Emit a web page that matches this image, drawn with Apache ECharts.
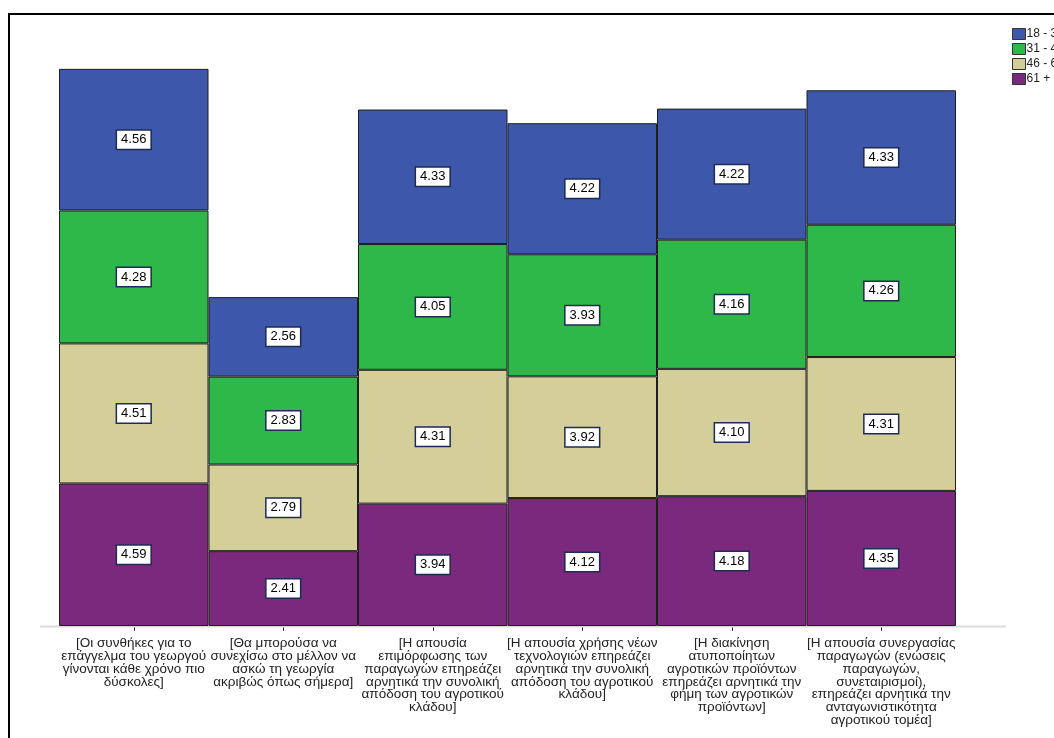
<!DOCTYPE html>
<html>
<head>
<meta charset="utf-8">
<script src="https://cdn.jsdelivr.net/npm/echarts@6/dist/echarts.min.js"></script>
<style>
html,body{margin:0;padding:0;background:#fff;}
#c{width:1054px;height:738px;}
</style>
</head>
<body>
<div id="c"></div>
<script>
const categories = [
  "[Οι συνθήκες για το\nεπάγγελμα του γεωργού\nγίνονται κάθε χρόνο πιο\nδύσκολες]",
  "[Θα μπορούσα να\nσυνεχίσω στο μέλλον να\nασκώ τη γεωργία\nακριβώς όπως σήμερα]",
  "[Η απουσία\nεπιμόρφωσης των\nπαραγωγών επηρεάζει\nαρνητικά την συνολική\nαπόδοση του αγροτικού\nκλάδου]",
  "[Η απουσία χρήσης νέων\nτεχνολογιών επηρεάζει\nαρνητικά την συνολική\nαπόδοση του αγροτικού\nκλάδου]",
  "[Η διακίνηση\nατυποποίητων\nαγροτικών προϊόντων\nεπηρεάζει αρνητικά την\nφήμη των αγροτικών\nπροϊόντων]",
  "[Η απουσία συνεργασίας\nπαραγωγών (ενώσεις\nπαραγωγών,\nσυνεταιρισμοί),\nεπηρεάζει αρνητικά την\nανταγωνιστικότητα\nαγροτικού τομέα]"
];
const seriesNames = ["18 - 30", "31 - 45", "46 - 60", "61 +"];
const age18_30 = [4.56, 2.56, 4.33, 4.22, 4.22, 4.33];
const age31_45 = [4.28, 2.83, 4.05, 3.93, 4.16, 4.26];
const age46_60 = [4.51, 2.79, 4.31, 3.92, 4.10, 4.31];
const age61plus = [4.59, 2.41, 3.94, 4.12, 4.18, 4.35];
const colors = ["#3d58ab", "#2fb84a", "#d4ce98", "#7a297d"];

const chart = echarts.init(document.getElementById('c'));
function mk(name, data, color) {
  return {
    name: name,
    type: 'bar',
    stack: 'total',
    data: data,
    barCategoryGap: 0,
    barGap: 0,
    itemStyle: { color: color, borderColor: '#1e1e1e', borderWidth: 1 },
    emphasis: { disabled: true },
    label: {
      show: true,
      position: 'inside',
      formatter: p => p.value.toFixed(2),
      backgroundColor: '#fff',
      borderColor: '#1f2a55',
      borderWidth: 1.5,
      padding: [3, 4, 2, 4],
      color: '#000',
      fontFamily: 'Liberation Sans, Arial, sans-serif',
      fontSize: 13
    }
  };
}
const series = [
  mk(seriesNames[3], age61plus, colors[3]),
  mk(seriesNames[2], age46_60, colors[2]),
  mk(seriesNames[1], age31_45, colors[1]),
  mk(seriesNames[0], age18_30, colors[0])
];
chart.setOption({
  animation: false,
  backgroundColor: '#fff',
  graphic: [
    { type: 'rect', shape: { x: 9, y: 14, width: 1100, height: 800 }, style: { fill: 'none', stroke: '#000', lineWidth: 2 }, z: 0 },
    { type: 'line', shape: { x1: 40, y1: 626.5, x2: 1006, y2: 626.5 }, style: { stroke: '#dcdcdc', lineWidth: 2 }, z: 1 }
  ],
  legend: {
    data: seriesNames,
    orient: 'vertical',
    left: 1007,
    top: 23,
    itemWidth: 13,
    itemHeight: 11,
    itemGap: 3,
    icon: 'rect',
    itemStyle: { borderColor: '#333', borderWidth: 1 },
    textStyle: { fontSize: 12, color: '#222', fontFamily: 'Liberation Sans, Arial, sans-serif', padding: [0, 0, 0, -4] }
  },
  grid: { left: 59, right: 98, top: 67, bottom: 112 },
  xAxis: {
    type: 'category',
    data: categories,
    axisLine: { show: false },
    axisTick: { show: true, alignWithLabel: true, length: 5, lineStyle: { color: '#333' } },
    axisLabel: {
      interval: 0,
      margin: 11,
      fontSize: 13.5,
      lineHeight: 12.8,
      color: '#222',
      fontFamily: 'Liberation Sans, Arial, sans-serif',
      align: 'center'
    }
  },
  yAxis: {
    type: 'value',
    min: 0,
    max: 18,
    show: false,
    splitLine: { show: false }
  },
  series: series
});
</script>
</body>
</html>
